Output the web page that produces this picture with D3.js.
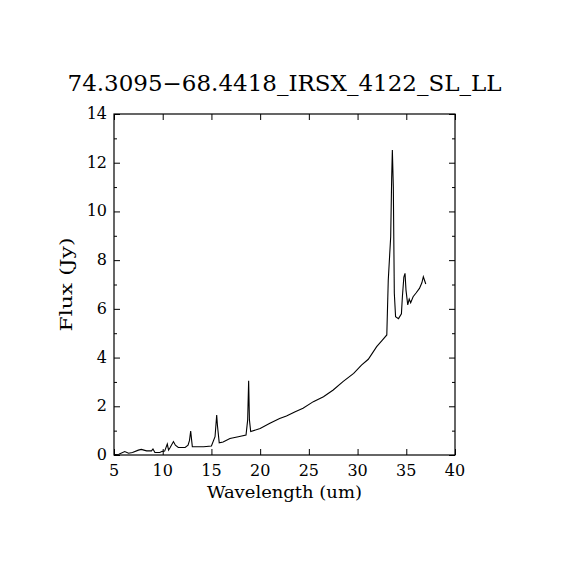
<!DOCTYPE html>
<html>
<head>
<meta charset="utf-8">
<script src="https://cdn.jsdelivr.net/npm/d3@7"></script>
<style>
  body { margin: 0; background: #fff; }
  text { font-family: "DejaVu Serif", "Liberation Serif", serif; fill: #000; }
</style>
</head>
<body>
<div id="chart"></div>
<script>
// spectrum
var wave = [5.1, 5.5, 6.1, 6.5, 6.9, 7.5, 7.8, 8.35, 8.85, 9.0, 9.2, 9.7, 9.95, 10.2,
            10.47, 10.6, 10.75, 11.1, 11.3, 11.6, 12.3, 12.6, 12.75, 12.87, 13.04, 14.2, 15.0,
            15.37, 15.54, 15.62, 15.8, 16.2, 16.9, 17.76, 18.55, 18.72, 18.82, 18.9, 19.03,
            20.0, 21.0, 22.0, 22.7, 23.6, 24.4, 25.46, 26.5, 27.5, 28.5, 29.6, 30.4,
            31.1, 31.96, 32.5, 33.0, 33.15, 33.4, 33.5, 33.57, 33.67, 33.77, 33.9, 34.2,
            34.5, 34.6, 34.75, 34.87, 34.97, 35.15, 35.3, 35.45, 35.7, 36.0, 36.35, 36.6,
            36.75, 37.0];
var flux = [0.02, 0.03, 0.14, 0.07, 0.1, 0.2, 0.23, 0.17, 0.17, 0.25, 0.1, 0.1, 0.15, 0.16,
            0.45, 0.2, 0.3, 0.55, 0.4, 0.31, 0.31, 0.4, 0.6, 0.98, 0.34, 0.34, 0.37,
            0.75, 1.64, 1.2, 0.5, 0.53, 0.68, 0.75, 0.82, 1.44, 3.05, 1.44, 0.96,
            1.09, 1.3, 1.5, 1.6, 1.78, 1.92, 2.19, 2.39, 2.67, 3.01, 3.35, 3.69,
            3.93, 4.45, 4.7, 4.93, 7.18, 8.96, 11.36, 12.52, 11.0, 6.65, 5.68, 5.6,
            5.8, 6.5, 7.3, 7.46, 6.77, 6.16, 6.4, 6.25, 6.5, 6.65, 6.84, 7.07,
            7.32, 7.02];

var xTicks = [5, 10, 15, 20, 25, 30, 35, 40];
var yTicks = [0, 2, 4, 6, 8, 10, 12, 14];
var yMinor = [1, 3, 5, 7, 9, 11, 13];

var title = "74.3095\u221268.4418_IRSX_4122_SL_LL";
var xTitle = "Wavelength (um)";
var yTitle = "Flux (Jy)";

var data = wave.map(function(w, i) { return {w: w, f: flux[i]}; });

var W = 570, H = 570;
var margin = {top: 114, right: 115, bottom: 115, left: 114};
var width = W - margin.left - margin.right,
    height = H - margin.top - margin.bottom;

var svg = d3.select("#chart").append("svg")
    .attr("width", W)
    .attr("height", H);

var g = svg.append("g")
    .attr("transform", "translate(" + margin.left + "," + margin.top + ")");

var x = d3.scaleLinear().domain([5, 40]).range([0, width]);
var y = d3.scaleLinear().domain([0, 14]).range([height, 0]);

// frame
g.append("rect")
    .attr("x", 0).attr("y", 0)
    .attr("width", width).attr("height", height)
    .attr("fill", "none").attr("stroke", "#000").attr("stroke-width", 1.2);

// inward ticks on every side, labels only left and bottom
function tickAxis(axis) {
  return function(sel) {
    sel.call(axis);
    sel.select(".domain").remove();
    sel.selectAll(".tick line").attr("stroke", "#000").attr("stroke-width", 1);
    sel.selectAll(".tick text").remove();
  };
}

g.append("g").attr("transform", "translate(0," + height + ")")
    .call(tickAxis(d3.axisTop(x).tickValues(xTicks).tickSize(6)));
g.append("g")
    .call(tickAxis(d3.axisBottom(x).tickValues(xTicks).tickSize(6)));
g.append("g")
    .call(tickAxis(d3.axisRight(y).tickValues(yTicks).tickSize(6)));
g.append("g")
    .call(tickAxis(d3.axisRight(y).tickValues(yMinor).tickSize(3)));
g.append("g").attr("transform", "translate(" + width + ",0)")
    .call(tickAxis(d3.axisLeft(y).tickValues(yTicks).tickSize(6)));
g.append("g").attr("transform", "translate(" + width + ",0)")
    .call(tickAxis(d3.axisLeft(y).tickValues(yMinor).tickSize(3)));

// tick labels
g.selectAll(".xlab").data(xTicks).enter().append("text")
    .attr("class", "xlab")
    .attr("x", function(d) { return x(d); })
    .attr("y", height + 21)
    .attr("text-anchor", "middle")
    .style("font-size", "16px")
    .text(function(d) { return d; });

g.selectAll(".ylab").data(yTicks).enter().append("text")
    .attr("class", "ylab")
    .attr("x", -7)
    .attr("y", function(d) { return y(d) + 5; })
    .attr("text-anchor", "end")
    .style("font-size", "16px")
    .text(function(d) { return d; });

// spectrum line
var line = d3.line()
    .x(function(d) { return x(d.w); })
    .y(function(d) { return y(d.f); });

g.append("path")
    .datum(data)
    .attr("d", line)
    .attr("fill", "none")
    .attr("stroke", "#000")
    .attr("stroke-width", 1.1);

// titles
svg.append("text")
    .attr("x", margin.left + width / 2)
    .attr("y", 91)
    .attr("text-anchor", "middle")
    .attr("textLength", 434)
    .attr("lengthAdjust", "spacingAndGlyphs")
    .style("font-size", "22px")
    .text(title);

svg.append("text")
    .attr("x", margin.left + width / 2)
    .attr("y", 498)
    .attr("text-anchor", "middle")
    .attr("textLength", 155)
    .attr("lengthAdjust", "spacingAndGlyphs")
    .style("font-size", "17px")
    .text(xTitle);

svg.append("text")
    .attr("transform", "translate(72," + (margin.top + height / 2) + ") rotate(-90)")
    .attr("text-anchor", "middle")
    .attr("textLength", 94)
    .attr("lengthAdjust", "spacingAndGlyphs")
    .style("font-size", "17px")
    .text(yTitle);
</script>
</body>
</html>
